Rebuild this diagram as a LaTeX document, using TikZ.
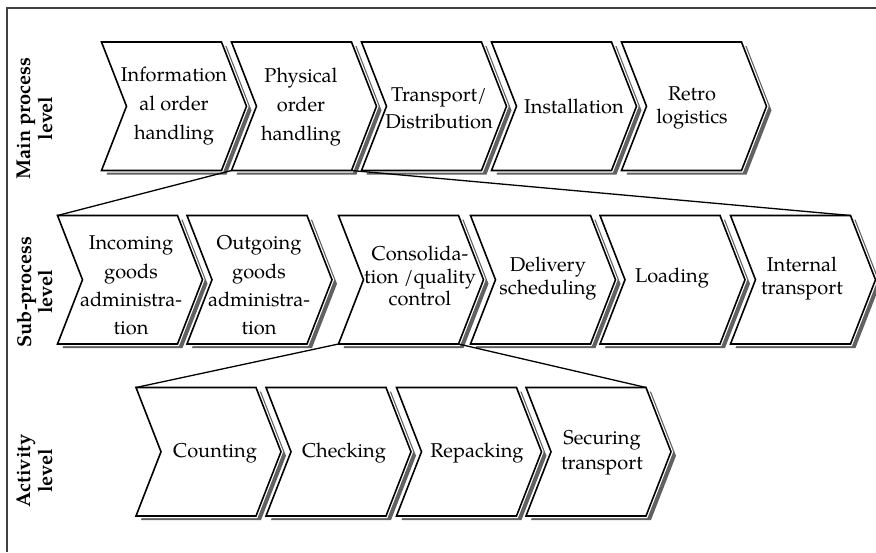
\documentclass[tikz,border=0pt]{standalone}
\usepackage{fontspec}
\setmainfont{TeX Gyre Pagella}
\tikzset{
  chevshape/.style={fill=white, draw=black, line width=1.6pt, line join=miter},
  chevhalo/.style={draw=white, line width=4pt, line join=miter},
  chevshadow/.style={fill=black!62},
  txt/.style={align=center, inner sep=0pt, font=\fontsize{20}{23}\selectfont},
  lvl/.style={align=center, inner sep=0pt, rotate=90, font=\bfseries\fontsize{20}{21.5}\selectfont},
  conn/.style={draw=black, line width=1.3pt},
  framelines/.style={draw=black!75, line width=1.3pt}
}
\newcommand\chev[3]{%
  \fill[chevshadow] (#2+5,#3+4) -- ++(120,0) -- ++(25,64.25) -- ++(-25,64.25) -- ++(-120,0) -- ++(25,-64.25) -- cycle;
  \path (#2,#3) coordinate (#1-tl) ++(120,0) coordinate (#1-tr) ++(25,64.25) coordinate (#1-tip)
        ++(-25,64.25) coordinate (#1-br) ++(-120,0) coordinate (#1-bl) ++(25,-64.25) coordinate (#1-notch);
  \draw[chevhalo] (#1-tl) -- (#1-tr) -- (#1-tip) -- (#1-br) -- (#1-bl) -- (#1-notch) -- cycle;
  \filldraw[chevshape] (#1-tl) -- (#1-tr) -- (#1-tip) -- (#1-br) -- (#1-bl) -- (#1-notch) -- cycle;
}
\begin{document}
\begin{tikzpicture}[x=1pt, y=-1pt]
\useasboundingbox (0,0) rectangle (876,552);
\fill[white] (0,0) rectangle (876,552);
\coordinate (fbl) at (7,552);
\coordinate (ftl) at (7,8);
\coordinate (ftr) at (876,8);
\draw[framelines] (fbl) -- (ftl) -- (ftr);

% main process level
\chev{cm1}{101.5}{42}
\chev{cm2}{231.5}{42}
\chev{cm3}{361.5}{42}
\chev{cm4}{491.5}{42}
\chev{cm5}{621.5}{42}
\node[txt, font=\fontsize{20}{29}\selectfont] (m1) at (174,106.5) {Information\\al order\\handling};
\node[txt, font=\fontsize{20}{29}\selectfont] (m2) at (301,107) {Physical\\order\\handling};
\node[txt, font=\fontsize{20}{27}\selectfont] (m3) at (439,108.5) {Transport/\\Distribution};
\node[txt] (m4) at (574,106) {Installation};
\node[txt, font=\fontsize{20}{22.5}\selectfont] (m5) at (692,108) {Retro\\logistics};

% sub-process level
\chev{cs1}{57.5}{215.5}
\chev{cs2}{187}{215.5}
\chev{cs3}{338.5}{215.5}
\chev{cs4}{470.5}{215.5}
\chev{cs5}{600}{215.5}
\chev{cs6}{730.5}{215.5}
\node[txt, font=\fontsize{20}{28.3}\selectfont] (s1) at (131,285.5) {Incoming\\goods\\administra-\\tion};
\node[txt, font=\fontsize{20}{28.3}\selectfont] (s2) at (259,285.5) {Outgoing\\goods\\administra-\\tion};
\node[txt, font=\fontsize{20}{22.5}\selectfont] (s3) at (420,276) {Consolida-\\tion /quality\\control};
\node[txt, font=\fontsize{20}{23.3}\selectfont] (s4) at (548,278.5) {Delivery\\scheduling};
\node[txt] (s5) at (672,278.2) {Loading};
\node[txt, font=\fontsize{20}{23.3}\selectfont] (s6) at (802,278.5) {Internal\\transport};

% activity level
\chev{ca1}{136}{387.5}
\chev{ca2}{266}{387.5}
\chev{ca3}{396.5}{387.5}
\chev{ca4}{526}{387.5}
\node[txt] (a1) at (215,453) {Counting};
\node[txt] (a2) at (344,453) {Checking};
\node[txt] (a3) at (477,453) {Repacking};
\node[txt, font=\fontsize{20}{25}\selectfont] (a4) at (602,452.7) {Securing\\transport};

% level labels
\node[lvl] (l1) at (35,118.5) {Main process\\level};
\node[lvl] (l2) at (35,292) {Sub-process\\level};
\node[lvl] (l3) at (35,471) {Activity\\level};

% zoom connectors
\draw[conn] (cm2-bl) -- (cs1-tl);
\draw[conn] (cm2-br) -- (cs6-tr);
\draw[conn] (cs3-bl) -- (ca1-tl);
\draw[conn] (cs3-br) -- (ca4-tr);
\end{tikzpicture}
\end{document}
